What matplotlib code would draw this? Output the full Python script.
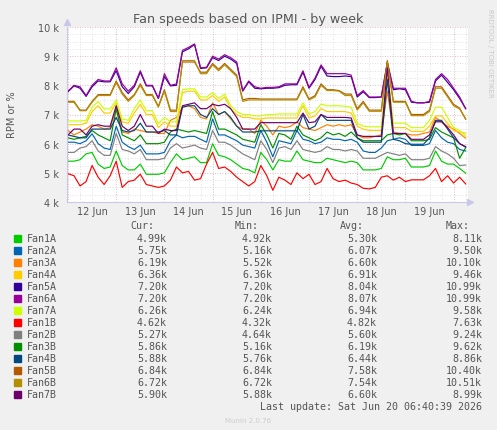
import numpy as np
import matplotlib.pyplot as plt

# time axis: one sample every 3 hours, days counted from 12 Jun 00:00
step = 0.125
day_labels = ['12 Jun', '13 Jun', '14 Jun', '15 Jun', '16 Jun', '17 Jun', '18 Jun', '19 Jun']
ytick_vals = [4, 5, 6, 7, 8, 9, 10]
ytick_labels = ['4 k', '5 k', '6 k', '7 k', '8 k', '9 k', '10 k']

# fan speeds in thousands of RPM
fan1a = [5.4, 5.4, 5.45, 5.65, 5.7, 5.3, 5.15, 5.2, 5.75, 5.25, 5.1, 5.1, 5.3, 4.95, 4.95, 4.95, 5.0,
         5.35, 5.65, 5.45, 5.5, 5.55, 5.35, 5.35, 6.0, 5.6, 5.55, 5.45, 5.3, 5.15, 5.1, 5.0, 5.7,
         5.45, 5.1, 5.45, 5.4, 5.4, 5.75, 5.45, 5.4, 5.35, 5.35, 5.5, 5.45, 5.4, 5.35, 5.4, 5.35, 5.1,
         5.1, 5.1, 5.15, 5.55, 5.45, 5.45, 5.5, 5.2, 5.2, 5.2, 5.25, 5.75, 5.4, 5.3, 5.3, 5.15, 4.99]
fan2a = [6.05, 6.05, 6.0, 6.1, 6.34, 6.0, 5.85, 5.8, 6.6, 6.05, 5.9, 5.8, 5.95, 5.65, 5.65, 5.65, 5.7,
         6.1, 6.3, 6.2, 6.25, 6.25, 6.15, 6.05, 6.85, 6.3, 6.3, 6.2, 6.1, 5.95, 5.9, 5.85, 6.45,
         6.05, 5.55, 6.1, 6.05, 6.0, 6.45, 6.15, 6.1, 6.0, 6.05, 6.2, 6.15, 6.15, 6.1, 6.15, 6.05, 5.75,
         5.7, 5.7, 5.85, 6.1, 6.15, 6.2, 6.15, 5.94, 5.94, 5.94, 6.0, 6.45, 6.2, 6.05, 6.0, 5.8, 5.75]
fan3a = [6.45, 6.3, 6.4, 6.5, 6.65, 6.6, 6.5, 6.55, 7.2, 6.4, 6.35, 6.5, 6.45, 6.4, 6.4, 6.35, 6.35,
         6.8, 6.9, 7.25, 7.3, 7.2, 6.9, 6.85, 7.4, 7.0, 7.1, 6.85, 6.6, 6.5, 6.5, 6.35, 6.8,
         6.6, 6.3, 6.6, 6.55, 6.6, 6.75, 6.55, 6.5, 6.45, 6.55, 6.65, 6.6, 6.65, 6.6, 6.65, 6.3, 6.2,
         6.2, 6.25, 6.3, 7.8, 6.4, 6.35, 6.35, 6.3, 6.3, 6.35, 6.4, 6.9, 6.75, 6.6, 6.5, 6.35, 6.19]
fan4a = [6.65, 6.65, 6.65, 6.7, 7.1, 7.3, 7.05, 7.05, 7.4, 6.75, 6.7, 7.05, 7.35, 7.0, 7.0, 6.55, 6.75,
         6.6, 6.6, 7.75, 7.8, 7.8, 7.5, 7.5, 7.65, 7.45, 7.6, 7.2, 7.0, 6.9, 6.9, 6.85, 6.85,
         6.88, 6.88, 6.88, 6.88, 6.88, 6.88, 7.3, 6.88, 6.95, 7.2, 7.1, 7.1, 7.1, 7.1, 7.05, 6.6, 6.5,
         6.45, 6.45, 6.45, 8.3, 6.55, 6.55, 6.55, 6.42, 6.42, 6.42, 6.6, 6.95, 6.95, 6.7, 6.45, 6.4, 6.36]
fan5a = [7.78, 7.98, 7.9, 7.62, 7.95, 8.15, 8.12, 8.12, 8.5, 7.95, 7.72, 7.95, 8.45, 7.98, 7.98, 7.55, 8.3,
         7.98, 8.0, 9.15, 9.25, 9.4, 8.58, 8.6, 8.95, 8.85, 9.0, 8.9, 8.75, 7.8, 8.12, 7.9, 7.88,
         7.9, 7.9, 7.92, 8.0, 8.02, 8.02, 8.45, 7.9, 8.2, 8.65, 8.32, 8.3, 8.3, 8.32, 8.3, 7.6, 7.78,
         7.58, 7.58, 7.6, 8.75, 7.85, 7.88, 7.85, 7.42, 7.4, 7.4, 7.42, 8.15, 8.35, 8.1, 7.85, 7.55, 7.2]
fan6a = [7.8, 8.0, 7.95, 7.65, 8.0, 8.2, 8.15, 8.15, 8.6, 8.05, 7.8, 8.0, 8.5, 8.0, 8.0, 7.55, 8.4,
         8.0, 8.05, 9.2, 9.3, 9.42, 8.6, 8.62, 9.0, 8.9, 9.05, 8.95, 8.8, 7.82, 8.15, 7.95, 7.9,
         7.93, 7.93, 7.95, 8.05, 8.05, 8.05, 8.5, 7.93, 8.25, 8.7, 8.4, 8.4, 8.4, 8.4, 8.35, 7.65, 7.82,
         7.6, 7.6, 7.6, 8.8, 7.9, 7.9, 7.9, 7.45, 7.4, 7.4, 7.45, 8.2, 8.4, 8.2, 7.9, 7.6, 7.2]
fan7a = [6.78, 6.78, 6.78, 6.8, 7.25, 7.45, 7.19, 7.19, 7.5, 6.85, 6.8, 7.2, 7.5, 7.13, 7.13, 6.68, 6.9,
         6.75, 6.75, 7.85, 7.88, 7.88, 7.6, 7.6, 7.75, 7.55, 7.7, 7.3, 7.1, 7.0, 7.0, 6.95, 6.95,
         7.0, 7.0, 7.02, 7.02, 7.02, 7.02, 7.4, 7.02, 7.1, 7.36, 7.3, 7.3, 7.3, 7.28, 7.25, 6.7, 6.6,
         6.58, 6.58, 6.58, 8.5, 6.7, 6.7, 6.7, 6.55, 6.55, 6.55, 6.8, 7.25, 7.25, 6.9, 6.55, 6.45, 6.26]
fan1b = [4.97, 4.9, 4.55, 4.7, 5.25, 4.85, 4.6, 4.9, 5.4, 4.5, 4.7, 4.75, 4.95, 4.6, 4.55, 4.5, 4.55,
         4.75, 5.2, 5.0, 5.05, 4.75, 4.8, 5.3, 5.7, 5.15, 5.2, 5.05, 4.85, 4.7, 4.55, 4.7, 5.25,
         4.9, 4.4, 4.85, 4.75, 4.6, 5.0, 4.8, 4.95, 4.6, 4.7, 5.15, 4.8, 4.7, 4.75, 4.65, 4.6, 4.47,
         4.45, 4.5, 4.85, 4.9, 4.75, 4.85, 4.7, 4.76, 4.76, 4.76, 4.9, 5.15, 4.7, 4.9, 4.65, 4.85, 4.62]
fan2b = [5.7, 5.7, 5.85, 5.9, 6.1, 5.75, 5.6, 5.6, 6.35, 5.8, 5.75, 5.65, 5.8, 5.45, 5.45, 5.45, 5.5,
         5.85, 6.0, 5.85, 5.9, 5.95, 5.85, 5.8, 6.45, 6.05, 6.05, 5.95, 5.8, 5.65, 5.55, 5.45, 6.1,
         5.8, 5.35, 5.85, 5.9, 5.8, 6.1, 5.8, 5.75, 5.7, 5.75, 5.9, 5.8, 5.8, 5.75, 5.8, 5.75, 5.5,
         5.5, 5.5, 5.6, 5.7, 5.65, 5.6, 5.65, 5.45, 5.45, 5.45, 5.5, 5.9, 5.75, 5.65, 5.5, 5.25, 5.27]
fan3b = [6.2, 6.15, 6.2, 6.25, 6.45, 6.3, 6.2, 6.1, 7.2, 6.3, 6.2, 6.1, 6.3, 6.0, 6.0, 6.0, 6.05,
         6.4, 6.5, 6.45, 6.4, 6.45, 6.4, 6.35, 7.1, 6.5, 6.5, 6.4, 6.3, 6.15, 6.1, 6.05, 6.65,
         6.3, 5.85, 6.35, 6.3, 6.15, 6.6, 6.3, 6.2, 6.1, 6.2, 6.4, 6.3, 6.35, 6.25, 6.4, 6.2, 6.1,
         6.1, 6.1, 6.1, 6.3, 6.35, 6.3, 6.35, 6.1, 6.1, 6.1, 6.15, 6.55, 6.4, 6.3, 6.2, 5.5, 5.86]
fan4b = [6.3, 6.25, 6.2, 6.2, 6.5, 6.5, 6.5, 6.5, 6.9, 6.45, 6.4, 6.45, 6.7, 6.4, 6.4, 6.4, 6.45,
         6.3, 6.3, 7.25, 7.3, 7.3, 7.0, 6.9, 7.2, 7.0, 7.1, 6.9, 6.6, 6.4, 6.4, 6.4, 6.44,
         6.44, 6.44, 6.44, 6.44, 6.44, 6.44, 7.0, 6.5, 6.6, 7.0, 6.8, 6.8, 6.8, 6.8, 6.8, 6.2, 6.05,
         6.05, 6.05, 6.05, 8.2, 6.15, 6.1, 6.0, 5.98, 5.98, 5.98, 6.2, 6.8, 6.8, 6.5, 6.2, 6.0, 5.88]
fan5b = [7.45, 7.45, 7.15, 7.15, 7.45, 7.68, 7.68, 7.68, 8.15, 7.75, 7.5, 7.68, 8.05, 7.68, 7.68, 7.28, 7.85,
         7.15, 7.15, 8.8, 8.8, 8.8, 8.45, 8.45, 8.75, 8.55, 8.75, 8.55, 8.35, 7.5, 7.55, 7.55, 7.53,
         7.53, 7.53, 7.53, 7.53, 7.53, 7.53, 7.95, 7.53, 7.65, 8.05, 7.85, 7.85, 7.82, 7.7, 7.7, 7.2, 7.45,
         7.15, 7.15, 7.15, 8.85, 7.45, 7.45, 7.45, 7.0, 7.0, 7.0, 7.15, 7.95, 7.95, 7.65, 7.35, 7.22, 6.84]
fan6b = [7.42, 7.42, 7.13, 7.13, 7.42, 7.65, 7.65, 7.65, 8.1, 7.7, 7.45, 7.65, 8.0, 7.65, 7.65, 7.25, 7.8,
         7.1, 7.1, 8.85, 8.85, 8.85, 8.4, 8.4, 8.7, 8.5, 8.7, 8.5, 8.3, 7.45, 7.5, 7.5, 7.5,
         7.5, 7.5, 7.5, 7.5, 7.5, 7.5, 7.9, 7.5, 7.6, 8.0, 7.82, 7.82, 7.8, 7.65, 7.65, 7.15, 7.4,
         7.11, 7.11, 7.11, 8.8, 7.42, 7.42, 7.42, 6.96, 6.96, 6.96, 7.1, 7.9, 7.9, 7.6, 7.3, 7.19, 6.85]
fan7b = [6.3, 6.5, 6.5, 6.3, 6.6, 6.65, 6.6, 6.6, 7.3, 6.6, 6.45, 6.6, 7.0, 6.6, 6.6, 6.35, 6.5,
         6.45, 6.45, 7.3, 7.35, 7.4, 7.2, 7.2, 7.35, 7.3, 7.35, 7.2, 6.9, 6.5, 6.5, 6.5, 6.72,
         6.72, 6.72, 6.72, 6.72, 6.72, 6.72, 7.05, 6.72, 6.75, 7.0, 6.9, 6.9, 6.9, 6.9, 6.88, 6.3, 6.25,
         6.25, 6.25, 6.25, 8.6, 6.35, 6.35, 6.35, 6.15, 6.15, 6.15, 6.3, 6.75, 6.75, 6.55, 6.3, 6.0, 5.9]

names = ['Fan1A', 'Fan2A', 'Fan3A', 'Fan4A', 'Fan5A', 'Fan6A', 'Fan7A',
         'Fan1B', 'Fan2B', 'Fan3B', 'Fan4B', 'Fan5B', 'Fan6B', 'Fan7B']
series = [fan1a, fan2a, fan3a, fan4a, fan5a, fan6a, fan7a,
          fan1b, fan2b, fan3b, fan4b, fan5b, fan6b, fan7b]
colors = ['#00cc00', '#0066b3', '#ff8000', '#ffcc00', '#330099', '#990099', '#ccff00',
          '#ff0000', '#808080', '#008f00', '#00487d', '#b35a00', '#b38f00', '#6b006b']
cur = ['4.99k', '5.75k', '6.19k', '6.36k', '7.20k', '7.20k', '6.26k',
       '4.62k', '5.27k', '5.86k', '5.88k', '6.84k', '6.72k', '5.90k']
mins = ['4.92k', '5.16k', '5.52k', '6.36k', '7.20k', '7.20k', '6.24k',
        '4.32k', '4.64k', '5.16k', '5.76k', '6.84k', '6.72k', '5.88k']
avgs = ['5.30k', '6.07k', '6.60k', '6.91k', '8.04k', '8.07k', '6.94k',
        '4.82k', '5.60k', '6.19k', '6.44k', '7.58k', '7.54k', '6.60k']
maxs = ['8.11k', '9.50k', '10.10k', '9.46k', '10.99k', '10.99k', '9.58k',
        '7.63k', '9.24k', '9.62k', '8.86k', '10.40k', '10.51k', '8.99k']

W, H = 497, 431
txt = '#555555'
fig = plt.figure(figsize=(W / 100, H / 100), dpi=100, facecolor='#f0f0f0')

def fx(px):
    return px / W

def fy(py):
    return 1 - py / H

ax = fig.add_axes([fx(67), fy(203), (468 - 67) / W, (203 - 28) / H])
ax.set_facecolor('white')

t = np.arange(len(fan1a)) * step
x0 = -1 / 48.2
x1 = 400 / 48.2
ax.set_xlim(x0, x1)
ax.set_ylim(4, 10)

# grid: minor gray, major red, dotted like rrdtool
for v in np.arange(4, 10.01, 0.25):
    major = abs(v - round(v)) < 1e-6
    ax.axhline(v, color='#e8a0a0' if major else '#d8d8d8', lw=0.6,
               ls=(0, (1, 2)), zorder=0)
for d in np.arange(0, x1, 0.25):
    major = abs(d - round(d)) < 1e-6
    ax.axvline(d, color='#e8a0a0' if major else '#d8d8d8', lw=0.6,
               ls=(0, (1, 2)), zorder=0)

for s, c in zip(series, colors):
    ax.plot(t, s, color=c, lw=0.85, zorder=2)

for sp in ['top', 'right']:
    ax.spines[sp].set_visible(False)
for sp in ['left', 'bottom']:
    ax.spines[sp].set_color('#c8c8e8')
    ax.spines[sp].set_linewidth(0.8)
ax.plot([0], [1.03], marker='^', color='#c8c8e8', ms=4, transform=ax.transAxes, clip_on=False)
ax.plot([1.005], [0], marker='>', color='#c8c8e8', ms=4, transform=ax.transAxes, clip_on=False)

ax.set_yticks(ytick_vals)
ax.set_yticklabels(ytick_labels)
ax.set_xticks(np.arange(len(day_labels)) + 0.5)
ax.set_xticklabels(day_labels)
ax.tick_params(length=0, labelsize=7, colors=txt)
ax.tick_params(axis='y', pad=6)
ax.tick_params(axis='x', pad=3)

fig.text(fx(248.5), fy(19), 'Fan speeds based on IPMI - by week', ha='center', va='center',
         fontsize=9.2, color=txt)
fig.text(fx(12), fy(115), 'RPM or %', rotation=90, ha='center', va='center',
         fontsize=7, color=txt)
fig.text(fx(490), fy(53), 'RRDTOOL / TOBI OETIKER', rotation=270, ha='center', va='center',
         fontsize=5, color='#c8c8c8')

# legend
mono = 'DejaVu Sans Mono'
lf = 7.2
for label, xr in zip(['Cur:', 'Min:', 'Avg:', 'Max:'], [154, 259, 364, 470]):
    fig.text(fx(xr), fy(226), label, ha='right', va='center', family=mono, fontsize=lf, color=txt)
for k in range(len(names)):
    y = 239 + 12 * k
    fig.patches.append(plt.Rectangle((fx(14), fy(y + 3.5)), 6.5 / W, 6.5 / H,
                                     transform=fig.transFigure, color=colors[k]))
    fig.text(fx(26.5), fy(y), names[k], ha='left', va='center', family=mono, fontsize=lf, color=txt)
    for val, xr in zip([cur[k], mins[k], avgs[k], maxs[k]], [167, 272, 377, 482]):
        fig.text(fx(xr), fy(y), val, ha='right', va='center', family=mono, fontsize=lf, color=txt)

fig.text(fx(482), fy(407), 'Last update: Sat Jun 20 06:40:39 2026', ha='right', va='center',
         family=mono, fontsize=lf, color=txt)
fig.text(fx(248), fy(421), 'Munin 2.0.76', ha='center', va='center', fontsize=5, color='#cccccc')

fig.savefig('out.png', dpi=100, facecolor=fig.get_facecolor())
